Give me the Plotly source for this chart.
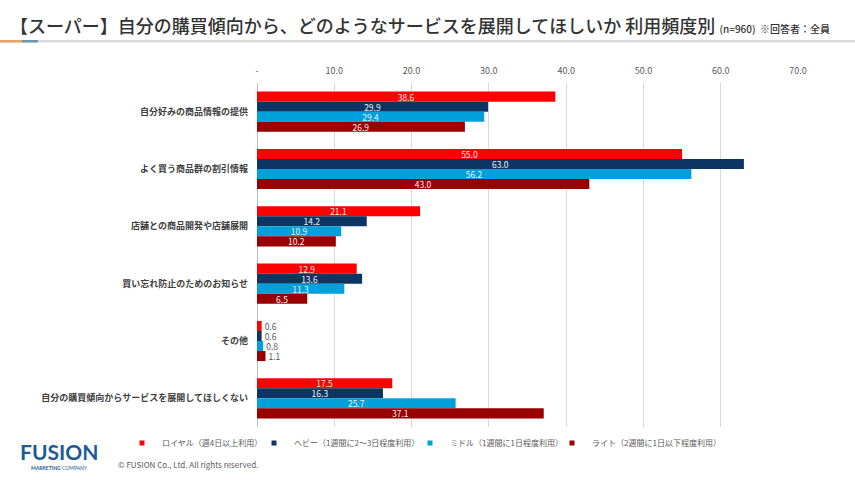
import plotly.graph_objects as go

categories = [
    "自分好みの商品情報の提供",
    "よく買う商品群の割引情報",
    "店舗との商品開発や店舗展開",
    "買い忘れ防止のためのお知らせ",
    "その他",
    "自分の購買傾向からサービスを展開してほしくない",
]
series_names = [
    "ロイヤル（週4日以上利用）",
    "ヘビー（1週間に2～3日程度利用）",
    "ミドル（1週間に1日程度利用）",
    "ライト（2週間に1日以下程度利用）",
]
royal = [38.6, 55.0, 21.1, 12.9, 0.6, 17.5]
heavy = [29.9, 63.0, 14.2, 13.6, 0.6, 16.3]
middle = [29.4, 56.2, 10.9, 11.3, 0.8, 25.7]
light = [26.9, 43.0, 10.2, 6.5, 1.1, 37.1]
tick_vals = [0, 10, 20, 30, 40, 50, 60, 70]
tick_text = ["-", "10.0", "20.0", "30.0", "40.0", "50.0", "60.0", "70.0"]

colors = ["#FF0000", "#0C3563", "#00A0DA", "#990000"]
series_values = [royal, heavy, middle, light]
legend_x_px = [140, 272, 428, 570]

FONT = "Noto Sans CJK JP"
W, H = 855, 480
ml, mr, mt, mb = 257, 57, 83, 53
pw = W - ml - mr
ph = H - mt - mb

fig = go.Figure()
for i, (name, vals, col) in enumerate(zip(series_names, series_values, colors)):
    lg = "legend" if i == 0 else f"legend{i+1}"
    fig.add_trace(go.Bar(
        y=categories, x=vals, orientation="h", name=name,
        marker=dict(color=col, line=dict(width=0)),
        text=[f"{v:.1f}" for v in vals],
        textposition=["inside" if v > 3 else "outside" for v in vals],
        textangle=0,
        insidetextanchor="middle",
        constraintext="none",
        insidetextfont=dict(color="#F2F2F2", size=8.5, family=FONT),
        outsidetextfont=dict(color="#595959", size=8.5, family=FONT),
        cliponaxis=False,
        showlegend=False,
    ))
    fig.add_trace(go.Scatter(
        x=[None], y=[None], mode="markers", name=name,
        marker=dict(symbol="square", size=5, color=col),
        legend=lg, showlegend=True,
    ))

layout_legends = {}
for i, px in enumerate(legend_x_px):
    key = "legend" if i == 0 else f"legend{i+1}"
    layout_legends[key] = dict(
        x=(px - ml - 18) / pw, y=(H - mb - 443) / ph,
        xanchor="left", yanchor="middle",
        orientation="h", bgcolor="rgba(0,0,0,0)",
        font=dict(size=8, color="#595959", family=FONT),
        itemwidth=30, tracegroupgap=0,
    )

fig.update_layout(
    width=W, height=H,
    margin=dict(l=ml, r=mr, t=mt, b=mb),
    paper_bgcolor="white", plot_bgcolor="white",
    barmode="group", bargap=0.30, bargroupgap=0,
    font=dict(family=FONT, color="#595959"),
    xaxis=dict(
        side="top", range=[0, 70], tickvals=tick_vals, ticktext=tick_text,
        showgrid=True, gridcolor="#D9D9D9", gridwidth=1,
        zeroline=True, zerolinecolor="#BFBFBF", zerolinewidth=1,
        tickfont=dict(size=9, color="#595959", family=FONT),
        ticks="", ticklabelstandoff=6, fixedrange=True,
    ),
    yaxis=dict(
        autorange="reversed", showgrid=False, ticks="",
        tickfont=dict(size=9, color="#404040", family=FONT, weight="bold"),
        ticklabelstandoff=8, fixedrange=True,
    ),
    **layout_legends,
)

# Title and header decorations
fig.add_annotation(
    xref="paper", yref="paper", x=(8 - ml) / pw, y=(H - mb - 25) / ph,
    xanchor="left", yanchor="middle", showarrow=False,
    text="【スーパー】自分の購買傾向から、どのようなサービスを展開してほしいか 利用頻度別"
         " <span style='font-size:10px'>(n=960)  ※回答者：全員</span>",
    font=dict(size=18, color="#333333", family=FONT, weight=500),
)
fig.add_shape(type="rect", xref="paper", yref="paper",
              x0=(0 - ml) / pw, x1=(W - ml) / pw,
              y0=(H - mb - 42.5) / ph, y1=(H - mb - 40) / ph,
              fillcolor="#D9D9D9", line=dict(width=0), layer="below")
fig.add_shape(type="rect", xref="paper", yref="paper",
              x0=(0 - ml) / pw, x1=(22 - ml) / pw,
              y0=(H - mb - 42.5) / ph, y1=(H - mb - 40) / ph,
              fillcolor="#E9A368", line=dict(width=0))
fig.add_shape(type="rect", xref="paper", yref="paper",
              x0=(22 - ml) / pw, x1=(38 - ml) / pw,
              y0=(H - mb - 42.5) / ph, y1=(H - mb - 40) / ph,
              fillcolor="#6E97AE", line=dict(width=0))

# Logo and copyright
fig.add_annotation(
    xref="paper", yref="paper", x=(59 - ml) / pw, y=(H - mb - 452) / ph,
    xanchor="center", yanchor="middle", showarrow=False,
    text="<b>FUSION</b>", font=dict(size=21, color="#1E5A96", family="Lato"),
)
fig.add_annotation(
    xref="paper", yref="paper", x=(59 - ml) / pw, y=(H - mb - 468) / ph,
    xanchor="center", yanchor="middle", showarrow=False,
    text="<b>MARKETING</b> COMPANY", font=dict(size=5, color="#1E5A96", family="Lato"),
)
fig.add_annotation(
    xref="paper", yref="paper", x=(116 - ml) / pw, y=(H - mb - 464) / ph,
    xanchor="left", yanchor="middle", showarrow=False,
    text="© FUSION Co., Ltd. All rights reserved.",
    font=dict(size=8, color="#595959", family=FONT),
)

fig.write_html("out.html")
